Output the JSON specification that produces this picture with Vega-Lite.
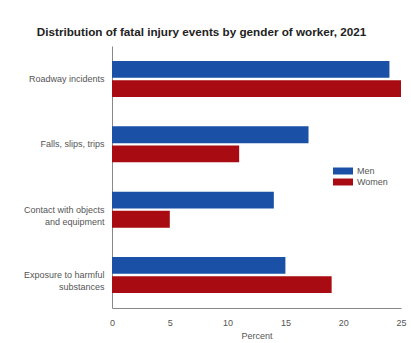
{
  "$schema": "https://vega.github.io/schema/vega-lite/v6.json",
  "width": 289,
  "height": 262,
  "autosize": {"type": "none"},
  "padding": {"left": 112, "top": 46, "right": 10, "bottom": 35},
  "background": "white",
  "title": {
    "text": "Distribution of fatal injury events by gender of worker, 2021",
    "font": "Liberation Sans",
    "fontSize": 11.7,
    "fontWeight": "bold",
    "color": "#222",
    "anchor": "middle",
    "dx": -55,
    "offset": 7
  },
  "data": {
    "values": [
      {"event": "Roadway incidents", "gender": "Men", "percent": 24},
      {"event": "Roadway incidents", "gender": "Women", "percent": 25},
      {"event": "Falls, slips, trips", "gender": "Men", "percent": 17},
      {"event": "Falls, slips, trips", "gender": "Women", "percent": 11},
      {"event": "Contact with objects|and equipment", "gender": "Men", "percent": 14},
      {"event": "Contact with objects|and equipment", "gender": "Women", "percent": 5},
      {"event": "Exposure to harmful|substances", "gender": "Men", "percent": 15},
      {"event": "Exposure to harmful|substances", "gender": "Women", "percent": 19}
    ]
  },
  "mark": {"type": "bar"},
  "encoding": {
    "y": {
      "field": "event",
      "type": "nominal",
      "sort": null,
      "scale": {"paddingInner": 0.45, "paddingOuter": 0.23},
      "axis": {
        "title": null,
        "ticks": false,
        "labelExpr": "split(datum.label, '|')",
        "labelFont": "Liberation Sans",
        "labelFontSize": 9,
        "labelColor": "#555",
        "labelPadding": 8,
        "labelLineHeight": 12,
        "domainColor": "#888",
        "grid": false
      }
    },
    "yOffset": {
      "field": "gender",
      "type": "nominal",
      "scale": {"paddingInner": 0.12}
    },
    "x": {
      "field": "percent",
      "type": "quantitative",
      "scale": {"domain": [0, 25], "nice": false},
      "axis": {
        "title": "Percent",
        "values": [0, 5, 10, 15, 20, 25],
        "ticks": false,
        "grid": false,
        "labelFlush": false,
        "labelBound": false,
        "labelFont": "Liberation Sans",
        "labelFontSize": 9,
        "labelColor": "#555",
        "labelPadding": 10,
        "titleFont": "Liberation Sans",
        "titleFontSize": 9,
        "titleFontWeight": "normal",
        "titleColor": "#555",
        "titlePadding": 4,
        "domainColor": "#888"
      }
    },
    "color": {
      "field": "gender",
      "type": "nominal",
      "scale": {"domain": ["Men", "Women"], "range": ["#1a50a6", "#a80c12"]},
      "legend": {
        "title": null,
        "orient": "none",
        "legendX": 226,
        "legendY": 120,
        "symbolType": "M-2,-0.7L2,-0.7L2,0.7L-2,0.7Z",
        "symbolSize": 100,
        "symbolStrokeWidth": 0,
        "labelFont": "Liberation Sans",
        "labelFontSize": 9,
        "labelColor": "#555",
        "labelOffset": 9,
        "rowPadding": 1
      }
    }
  },
  "config": {"view": {"stroke": null}}
}
